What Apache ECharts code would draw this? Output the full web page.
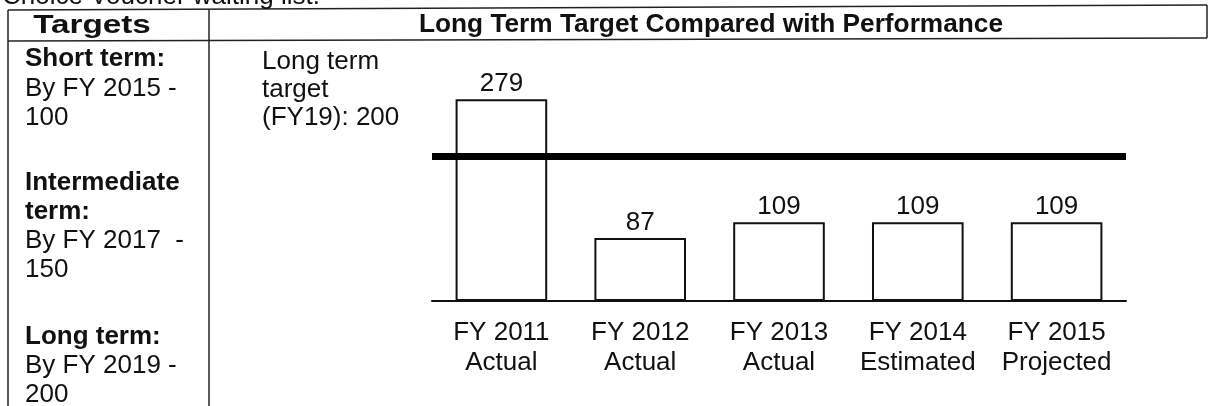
<!DOCTYPE html>
<html><head><meta charset="utf-8">
<script src="https://cdn.jsdelivr.net/npm/echarts@6/dist/echarts.min.js"></script>
<style>html,body{margin:0;padding:0;background:#fff}#c{width:1209px;height:406px}</style>
</head><body><div id="c"></div>
<script>
const categories = ['FY 2011\nActual', 'FY 2012\nActual', 'FY 2013\nActual', 'FY 2014\nEstimated', 'FY 2015\nProjected'];
const values = [279, 87, 109, 109, 109];
const longTermTarget = 200;
const pageCaption = 'Choice Voucher waiting list.';
const leftHeader = 'Targets';
const rightHeader = 'Long Term Target Compared with Performance';
const shortTermLines = ['Short term:', 'By FY 2015 -', '100'];
const intermediateLines = ['Intermediate', 'term:', 'By FY 2017  -', '150'];
const longTermLines = ['Long term:', 'By FY 2019 -', '200'];
const targetNoteLines = ['Long term', 'target', '(FY19): 200'];

const FONT = "'Liberation Sans', Arial, sans-serif";
const INK = '#111';

function txt(x, baseline, s, bold, align, sx) {
  return {
    type: 'text', silent: true, z: 10,
    x: x, y: baseline - 9, scaleX: sx || 1,
    style: {
      x: 0, y: 0, text: s,
      fontFamily: FONT, fontSize: 26, fontWeight: bold ? 'bold' : 'normal',
      fill: INK, align: align || 'left', verticalAlign: 'middle'
    }
  };
}
function ln(x1, y1, x2, y2) {
  return { type: 'line', silent: true, z: 10,
    shape: { x1: x1, y1: y1, x2: x2, y2: y2 },
    style: { stroke: '#222', lineWidth: 1.5 } };
}

const elements = [
  ln(8, 10, 1207, 5),
  ln(8, 41, 1207, 38),
  ln(8, 10, 8, 406),
  ln(209, 9, 209, 406),
  ln(1207, 5, 1207, 38),
  txt(2, 6, pageCaption, false),
  txt(92, 35, leftHeader, true, 'center', 1.28),
  txt(711, 34, rightHeader, true, 'center', 1.01)
];
const b1 = [68, 98, 127], b2 = [192, 221, 250, 279], b3 = [346, 375, 404], bn = [71, 99, 127];
shortTermLines.forEach((s, i) => elements.push(txt(25, b1[i], s, i === 0)));
intermediateLines.forEach((s, i) => elements.push(txt(25, b2[i], s, i < 2)));
longTermLines.forEach((s, i) => elements.push(txt(25, b3[i], s, i === 0)));
targetNoteLines.forEach((s, i) => elements.push(txt(262, bn[i], s, false)));

const chart = echarts.init(document.getElementById('c'), null, { renderer: 'canvas' });
chart.setOption({
  animation: false,
  backgroundColor: '#fff',
  grid: { left: 432, right: 83, top: 84, bottom: 105, containLabel: false, outerBoundsMode: 'none' },
  xAxis: {
    type: 'category', data: categories,
    axisLine: { lineStyle: { color: INK, width: 2 } },
    axisTick: { show: false },
    axisLabel: { interval: 0, color: INK, fontFamily: FONT, fontSize: 26, lineHeight: 30, margin: 17 },
    splitLine: { show: false }
  },
  yAxis: { type: 'value', min: 0, max: 300, show: false, splitLine: { show: false } },
  series: [{
    type: 'bar', data: values, barCategoryGap: '34%',
    itemStyle: { color: '#fff', borderColor: INK, borderWidth: 2 },
    label: { show: true, position: 'top', distance: 2, color: INK, fontFamily: FONT, fontSize: 26 },
    markLine: {
      silent: true, symbol: ['none', 'none'],
      lineStyle: { color: '#000', width: 7, type: 'solid' },
      label: { show: false },
      data: [{ yAxis: longTermTarget }]
    }
  }],
  graphic: { elements: elements }
});
</script></body></html>
